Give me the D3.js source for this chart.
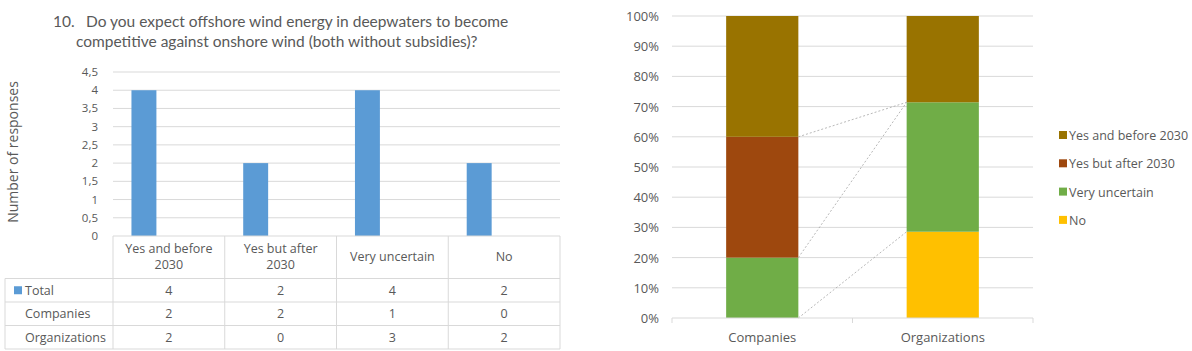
<!DOCTYPE html>
<html>
<head>
<meta charset="utf-8">
<script src="https://cdn.jsdelivr.net/npm/d3@7"></script>
<style>
  body { margin: 0; background: #fff; }
  svg text { font-family: "Open Sans", "Liberation Sans", sans-serif; fill: #595959; }
  svg text.title { font-family: Lato, "Open Sans", sans-serif; }
</style>
</head>
<body>
<svg id="chart" width="1192" height="351"></svg>
<script>
// data
var categories = ["Yes and before 2030", "Yes but after 2030", "Very uncertain", "No"];
var seriesNames = ["Total", "Companies", "Organizations"];
var totalValues = [4, 2, 4, 2];
var companiesValues = [2, 2, 1, 0];
var organizationsValues = [2, 0, 3, 2];
var leftTicks = [0, 0.5, 1, 1.5, 2, 2.5, 3, 3.5, 4, 4.5];

var groups = ["Companies", "Organizations"];
var stackKeys = ["No", "Very uncertain", "Yes but after 2030", "Yes and before 2030"];
var stackColors = ["#ffc000", "#70ad47", "#9e480e", "#997300"];
var rightTicks = [0, 0.1, 0.2, 0.3, 0.4, 0.5, 0.6, 0.7, 0.8, 0.9, 1];

var titleNumber = "10.";
var titleLines = ["Do you expect offshore wind energy in deepwaters to become",
                  "competitive against onshore wind (both without subsidies)?"];

var svg = d3.select("#chart");
var gridColor = "#d9d9d9";
var fmtComma = d3.formatLocale({decimal: ",", thousands: ".", grouping: [3], currency: ["", ""]}).format("~g");

// ---------- left chart ----------
var left = {x0: 113, x1: 560, yTop: 72, yBot: 236};

svg.append("text").attr("class", "title")
    .attr("x", 53).attr("y", 27)
    .style("font-size", "15.5px")
    .text(titleNumber);
svg.selectAll(".tline").data(titleLines).enter().append("text")
    .attr("class", "title")
    .attr("x", function(d, i){ return i == 0 ? 86 : 76 })
    .attr("y", function(d, i){ return 27 + i * 19.5 })
    .style("font-size", "15.5px")
    .text(function(d){ return d });

var xL = d3.scaleBand().domain(categories).range([left.x0, left.x1]);
var xInner = d3.scaleBand().domain(seriesNames).range([0, xL.bandwidth()]).paddingOuter(0.74);
var yL = d3.scaleLinear().domain([0, 4.5]).range([left.yBot, left.yTop]);

svg.append("g").selectAll("line").data(leftTicks.slice(1)).enter().append("line")
    .attr("x1", left.x0).attr("x2", left.x1)
    .attr("y1", function(d){ return yL(d) }).attr("y2", function(d){ return yL(d) })
    .attr("stroke", gridColor);

svg.append("g").selectAll("text").data(leftTicks).enter().append("text")
    .attr("x", 98).attr("y", function(d){ return yL(d) + 4 })
    .attr("text-anchor", "end")
    .style("font-size", "11.5px")
    .text(function(d){ return fmtComma(d) });

svg.append("text")
    .attr("transform", "translate(18,152) rotate(-90)")
    .attr("text-anchor", "middle")
    .style("font-size", "14px")
    .text("Number of responses");

svg.append("g").selectAll("rect").data(totalValues).enter().append("rect")
    .attr("x", function(d, i){ return xL(categories[i]) + xInner("Total") })
    .attr("width", xInner.bandwidth())
    .attr("y", function(d){ return yL(d) })
    .attr("height", function(d){ return yL(0) - yL(d) })
    .attr("fill", "#5b9bd5");

// data table under the axis
var rows = [
  {name: "Total", values: totalValues, key: true},
  {name: "Companies", values: companiesValues, key: false},
  {name: "Organizations", values: organizationsValues, key: false}
];
var headerBot = 278.5, rowH = 23.5, tableLeft = 5;
var table = svg.append("g");

table.append("line").attr("x1", left.x0).attr("x2", left.x1)
    .attr("y1", left.yBot).attr("y2", left.yBot).attr("stroke", gridColor);
var edges = categories.map(function(c){ return xL(c) }).concat([left.x1]);
table.selectAll(".vline").data(edges).enter().append("line")
    .attr("x1", function(d){ return d }).attr("x2", function(d){ return d })
    .attr("y1", left.yBot).attr("y2", headerBot + rowH * rows.length)
    .attr("stroke", gridColor);
table.append("line").attr("x1", tableLeft).attr("x2", tableLeft)
    .attr("y1", headerBot).attr("y2", headerBot + rowH * rows.length).attr("stroke", gridColor);
table.selectAll(".hline").data(d3.range(rows.length + 1)).enter().append("line")
    .attr("x1", tableLeft).attr("x2", left.x1)
    .attr("y1", function(d){ return headerBot + d * rowH }).attr("y2", function(d){ return headerBot + d * rowH })
    .attr("stroke", gridColor);

// header labels, wrapped when too long
table.selectAll(".head").data(categories).enter().append("text")
    .attr("text-anchor", "middle")
    .style("font-size", "12.5px")
    .each(function(d){
        var el = d3.select(this), cx = xL(d) + xL.bandwidth() / 2;
        var words = d.split(" "), lines = [], line = [];
        var probe = el.append("tspan");
        words.forEach(function(w){
            line.push(w);
            probe.text(line.join(" "));
            if (probe.node().getComputedTextLength() > 92 && line.length > 1) {
                line.pop(); lines.push(line.join(" ")); line = [w];
            }
        });
        lines.push(line.join(" "));
        probe.remove();
        var y0 = 261 - (lines.length - 1) * 8;
        lines.forEach(function(t, i){
            el.append("tspan").attr("x", cx).attr("y", y0 + i * 16).text(t);
        });
    });

rows.forEach(function(r, ri){
    var cy = headerBot + ri * rowH + rowH / 2 + 4.5;
    if (r.key) {
        table.append("rect").attr("x", 14).attr("y", cy - 8.5).attr("width", 8).attr("height", 8).attr("fill", "#5b9bd5");
    }
    table.append("text").attr("x", 25).attr("y", cy)
        .style("font-size", "12.5px").text(r.name);
    table.selectAll(".v" + ri).data(r.values).enter().append("text")
        .attr("x", function(d, i){ return xL(categories[i]) + xL.bandwidth() / 2 })
        .attr("y", cy)
        .attr("text-anchor", "middle")
        .style("font-size", "12.5px")
        .text(function(d){ return d });
});

// ---------- right chart ----------
var right = {x0: 672, x1: 1033, yTop: 16, yBot: 318};
var tableRows = groups.map(function(g, gi){
    var src = gi == 0 ? companiesValues : organizationsValues;
    var o = {group: g};
    stackKeys.forEach(function(k){ o[k] = src[categories.indexOf(k)] });
    return o;
});
var stacked = d3.stack().keys(stackKeys).offset(d3.stackOffsetExpand)(tableRows);

var xR = d3.scaleBand().domain(groups).range([right.x0, right.x1]).paddingInner(0.6).paddingOuter(0.3);
var yR = d3.scaleLinear().domain([0, 1]).range([right.yBot, right.yTop]);

svg.append("g").selectAll("line").data(rightTicks.slice(1)).enter().append("line")
    .attr("x1", right.x0).attr("x2", right.x1)
    .attr("y1", function(d){ return yR(d) }).attr("y2", function(d){ return yR(d) })
    .attr("stroke", gridColor);

svg.append("g").selectAll("text").data(rightTicks).enter().append("text")
    .attr("x", 659).attr("y", function(d){ return yR(d) + 5 })
    .attr("text-anchor", "end")
    .style("font-size", "13px")
    .text(d3.format(".0%"));

svg.append("g").selectAll("g").data(stacked).enter().append("g")
    .attr("fill", function(d, i){ return stackColors[i] })
    .selectAll("rect").data(function(d){ return d }).enter().append("rect")
    .attr("x", function(d){ return xR(d.data.group) })
    .attr("width", xR.bandwidth())
    .attr("y", function(d){ return yR(d[1]) })
    .attr("height", function(d){ return yR(d[0]) - yR(d[1]) });

// series lines between the two bars
svg.append("g").selectAll("line").data(stacked.slice(0, stacked.length - 1)).enter().append("line")
    .attr("x1", xR(groups[0]) + xR.bandwidth())
    .attr("x2", xR(groups[1]))
    .attr("y1", function(s){ return yR(s[0][1]) })
    .attr("y2", function(s){ return yR(s[1][1]) })
    .attr("stroke", "#a6a6a6")
    .attr("stroke-width", 0.8)
    .attr("stroke-dasharray", "2,2");

svg.append("line").attr("x1", right.x0).attr("x2", right.x1)
    .attr("y1", right.yBot).attr("y2", right.yBot).attr("stroke", gridColor);
svg.append("g").selectAll("line").data(d3.range(groups.length + 1)).enter().append("line")
    .attr("x1", function(d){ return right.x0 + d * xR.step() }).attr("x2", function(d){ return right.x0 + d * xR.step() })
    .attr("y1", right.yBot).attr("y2", right.yBot + 5).attr("stroke", gridColor);

svg.append("g").selectAll("text").data(groups).enter().append("text")
    .attr("x", function(d){ return xR(d) + xR.bandwidth() / 2 })
    .attr("y", 342)
    .attr("text-anchor", "middle")
    .style("font-size", "13px")
    .text(function(d){ return d });

var legendKeys = stackKeys.slice().reverse();
var legend = svg.append("g").selectAll("g").data(legendKeys).enter().append("g")
    .attr("transform", function(d, i){ return "translate(1059," + (140 + i * 28.3) + ")" });
legend.append("rect").attr("x", 0).attr("y", -9).attr("width", 8).attr("height", 8)
    .attr("fill", function(d){ return stackColors[stackKeys.indexOf(d)] });
legend.append("text").attr("x", 10).attr("y", 0)
    .style("font-size", "12.5px")
    .text(function(d){ return d });
</script>
</body>
</html>
